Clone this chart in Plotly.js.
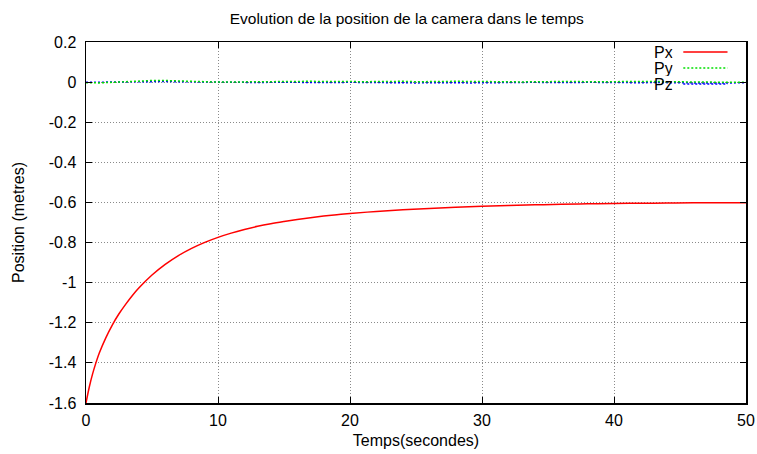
<!DOCTYPE html>
<html>
<head>
<meta charset="utf-8">
<script src="https://cdn.plot.ly/plotly-3.0.1.min.js"></script>
<style>html,body{margin:0;padding:0;background:#fff;}#chart{width:757px;height:454px;}</style>
</head>
<body>
<div id="chart"></div>
<script>
// ---- data ----
const seriesNames = ["Px", "Py", "Pz"];
const seriesColors = ["#ff0000", "#00e000", "#0000ff"];

const tPx = [0, 0.25, 0.5, 0.75, 1, 1.5, 2, 2.5, 3, 3.5, 4, 5, 6, 7, 8, 9, 10, 11, 12, 13, 14, 15, 16,
             17, 18, 19, 20, 22, 24, 26, 28, 30, 32, 34, 36, 38, 40, 42, 44, 46, 48, 50];
const px = [-1.600, -1.520, -1.455, -1.400, -1.352, -1.275, -1.210, -1.155, -1.108, -1.065, -1.027,
            -0.962, -0.909, -0.865, -0.829, -0.799, -0.774, -0.753, -0.735, -0.719, -0.706, -0.695,
            -0.685, -0.676, -0.668, -0.661, -0.655, -0.645, -0.637, -0.630, -0.624, -0.619, -0.615,
            -0.612, -0.609, -0.607, -0.605, -0.604, -0.603, -0.602, -0.602, -0.601];

const tPyz = [0,1,2,3,4,5,6,7,8,9,10,11,12,13,14,15,16,17,18,19,20,21,22,23,24,25,26,27,28,29,30,
              31,32,33,34,35,36,37,38,39,40,41,42,43,44,45,46,47,48,49,50];
const py = [-0.003, -0.004, -0.001, 0.003, 0.006, 0.008, 0.008, 0.007, 0.005, 0.002, 0.000,
            0.001, 0.002, 0.002, 0.001, 0.003, 0.004, 0.004, 0.003, 0.004, 0.003,
            0.002, 0.003, 0.005, 0.004, 0.002, 0.001, 0.003, 0.004, 0.003, 0.002,
            0.003, 0.002, 0.001, 0.002, 0.003, 0.004, 0.003, 0.002, 0.001, 0.002,
            0.003, 0.004, 0.003, 0.002, 0.001, 0.000, 0.001, 0.000, -0.001, 0.000];
const pz = [-0.001, 0.000, -0.002, 0.001, 0.003, 0.004, 0.003, 0.002, 0.001, 0.000, -0.001,
            0.000, -0.001, -0.002, -0.001, 0.000, -0.001, -0.002, -0.003, -0.002, -0.001,
            -0.002, -0.003, -0.002, -0.003, -0.004, -0.003, -0.002, -0.003, -0.004, -0.003,
            -0.002, -0.003, -0.002, -0.001, -0.002, -0.003, -0.002, -0.001, -0.002, -0.003,
            -0.004, -0.003, -0.002, -0.003, -0.004, -0.005, -0.006, -0.005, -0.004, -0.003];

const xTicks = [0, 10, 20, 30, 40, 50];
const yTicks = [0.2, 0, -0.2, -0.4, -0.6, -0.8, -1, -1.2, -1.4, -1.6];
const yTickLabels = ["0.2", "0", "-0.2", "-0.4", "-0.6", "-0.8", "-1", "-1.2", "-1.4", "-1.6"];

const titleText = "Evolution de la position de la camera dans le temps";
const xTitle = "Temps(secondes)";
const yTitle = "Position (metres)";

// ---- traces ----
const dashes = ["solid", "2px,2px", "2px,2px"];
const xs = [tPx, tPyz, tPyz];
const ys = [px, py, pz];
const traces = seriesNames.map((n, i) => ({
  x: xs[i], y: ys[i], name: n, type: "scatter", mode: "lines",
  line: {color: seriesColors[i], width: 1.5, dash: dashes[i], shape: i === 0 ? "spline" : "linear"},
  showlegend: false, hoverinfo: "skip"
})).reverse();

// ---- gnuplot-style legend (text right-aligned, sample line to the right) ----
const legY = [0.972, 0.928, 0.884];
const annotations = seriesNames.map((n, i) => ({
  xref: "paper", yref: "paper", x: 0.893, y: legY[i], xanchor: "right", yanchor: "middle",
  text: n, showarrow: false, height: 16,
  font: {family: "Liberation Sans, Arial, sans-serif", size: 16, color: "#000"}
}));
const shapes = seriesNames.map((n, i) => ({
  type: "line", xref: "paper", yref: "paper", x0: 0.905, x1: 0.972, y0: legY[i], y1: legY[i],
  line: {color: seriesColors[i], width: 1.5, dash: dashes[i]}
}));

const font = {family: "Liberation Sans, Arial, sans-serif", size: 16, color: "#000"};
const layout = {
  width: 757, height: 454,
  margin: {l: 86, r: 11, t: 42, b: 51, pad: 0},
  paper_bgcolor: "#fff", plot_bgcolor: "#fff",
  font: font,
  title: {text: titleText, font: {family: font.family, size: 15.5, color: "#000"}, x: 0.486, xref: "paper", xanchor: "center", y: 0.96, yanchor: "middle"},
  xaxis: {
    range: [0, 50], tickvals: xTicks, ticktext: xTicks.map(String),
    ticks: "inside", ticklen: 6, tickcolor: "#000", mirror: "ticks",
    showline: true, linecolor: "#000", linewidth: 1.5,
    showgrid: true, gridcolor: "#8a8a8a", griddash: "1px,2px", gridwidth: 1,
    zeroline: false, tickfont: font, ticklabelstandoff: 2,
    title: {text: xTitle, font: font, standoff: 7}
  },
  yaxis: {
    range: [-1.6, 0.2], tickvals: yTicks, ticktext: yTickLabels,
    ticks: "inside", ticklen: 6, tickcolor: "#000", mirror: "ticks",
    showline: true, linecolor: "#000", linewidth: 1.5,
    showgrid: true, gridcolor: "#8a8a8a", griddash: "1px,2px", gridwidth: 1,
    zeroline: false, tickfont: font, ticklabelstandoff: 5,
    title: {text: yTitle, font: font, standoff: 20}
  },
  annotations: annotations,
  shapes: shapes,
  showlegend: false
};

Plotly.newPlot("chart", traces, layout, {displayModeBar: false, staticPlot: true});
</script>
</body>
</html>
